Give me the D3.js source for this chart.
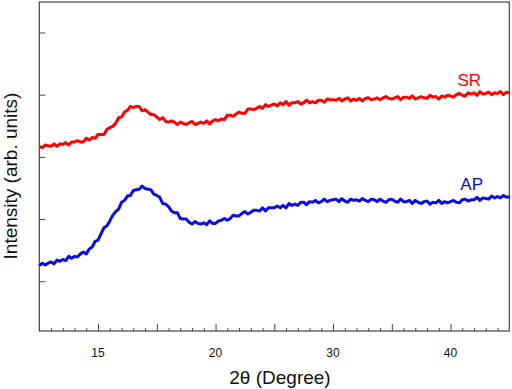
<!DOCTYPE html>
<html>
<head>
<meta charset="utf-8">
<script src="https://cdn.jsdelivr.net/npm/d3@7"></script>
<style>
  body { margin: 0; background: #fff; }
  svg { display: block; font-family: "Liberation Sans", Arial, sans-serif; }
</style>
</head>
<body>
<div id="chart"></div>
<script>
// 2theta sampling grid, 0.25 deg step from 5 to 45
const twoTheta = d3.range(161).map(i => 5 + i * 0.25);

const srValues = [
  2.17, 2.15, 2.19, 2.18, 2.17, 2.21, 2.17, 2.21, 2.20, 2.23,
  2.19, 2.24, 2.24, 2.26, 2.24, 2.24, 2.30, 2.27, 2.31, 2.30,
  2.36, 2.36, 2.36, 2.44, 2.47, 2.49, 2.54, 2.63, 2.64, 2.72,
  2.75, 2.81, 2.79, 2.81, 2.81, 2.74, 2.76, 2.72, 2.68, 2.68,
  2.64, 2.60, 2.63, 2.57, 2.56, 2.58, 2.56, 2.52, 2.56, 2.54,
  2.52, 2.55, 2.57, 2.52, 2.54, 2.56, 2.54, 2.58, 2.53, 2.58,
  2.60, 2.58, 2.61, 2.60, 2.67, 2.67, 2.65, 2.69, 2.72, 2.70,
  2.70, 2.77, 2.77, 2.76, 2.78, 2.81, 2.78, 2.84, 2.81, 2.83,
  2.85, 2.82, 2.87, 2.84, 2.89, 2.83, 2.87, 2.87, 2.89, 2.85,
  2.87, 2.91, 2.87, 2.89, 2.87, 2.91, 2.91, 2.88, 2.93, 2.92,
  2.92, 2.91, 2.94, 2.90, 2.93, 2.95, 2.90, 2.93, 2.91, 2.94,
  2.90, 2.94, 2.95, 2.92, 2.93, 2.95, 2.92, 2.95, 2.97, 2.94,
  2.93, 2.95, 2.97, 2.92, 2.96, 2.96, 2.94, 2.98, 2.93, 2.95,
  2.97, 2.95, 2.94, 2.99, 2.96, 2.97, 2.93, 2.98, 2.96, 2.99,
  2.98, 2.96, 3.00, 3.02, 2.99, 2.98, 3.03, 3.01, 3.03, 2.99,
  3.05, 3.01, 3.02, 3.04, 3.00, 3.03, 3.02, 3.05, 3.00, 3.04,
  3.03
];

const apValues = [
  0.25, 0.29, 0.26, 0.29, 0.31, 0.28, 0.34, 0.32, 0.35, 0.33,
  0.40, 0.37, 0.40, 0.39, 0.44, 0.47, 0.44, 0.52, 0.55, 0.64,
  0.66, 0.76, 0.86, 0.89, 0.97, 1.06, 1.12, 1.16, 1.27, 1.30,
  1.37, 1.38, 1.46, 1.47, 1.48, 1.53, 1.49, 1.48, 1.47, 1.40,
  1.38, 1.35, 1.25, 1.24, 1.20, 1.13, 1.10, 1.10, 1.01, 1.00,
  1.00, 0.95, 0.92, 0.96, 0.93, 0.92, 0.94, 0.91, 0.97, 0.93,
  0.93, 0.97, 0.98, 1.01, 0.98, 1.01, 1.06, 1.05, 1.05, 1.09,
  1.12, 1.08, 1.11, 1.14, 1.14, 1.13, 1.18, 1.13, 1.18, 1.18,
  1.18, 1.21, 1.18, 1.22, 1.18, 1.25, 1.22, 1.24, 1.22, 1.27,
  1.27, 1.23, 1.28, 1.27, 1.30, 1.26, 1.28, 1.32, 1.28, 1.30,
  1.31, 1.32, 1.28, 1.33, 1.29, 1.27, 1.32, 1.30, 1.31, 1.29,
  1.33, 1.30, 1.28, 1.32, 1.31, 1.28, 1.32, 1.29, 1.27, 1.31,
  1.32, 1.29, 1.27, 1.32, 1.28, 1.28, 1.30, 1.25, 1.30, 1.27,
  1.25, 1.28, 1.29, 1.24, 1.27, 1.26, 1.30, 1.25, 1.28, 1.26,
  1.28, 1.30, 1.27, 1.26, 1.31, 1.32, 1.29, 1.31, 1.31, 1.35,
  1.30, 1.34, 1.33, 1.32, 1.37, 1.34, 1.36, 1.34, 1.38, 1.35,
  1.36
];

const xTickValues = [10, 20, 30, 40];
const xTickLabels = ["15", "20", "30", "40"];
const yTickValues = [0, 1, 2, 3, 4];

const series = [
  { name: "SR", values: srValues, color: "#ff0000", labelAt: 41.6, labelY: 3.14 },
  { name: "AP", values: apValues, color: "#0a0ae6", labelAt: 41.8, labelY: 1.46 }
];

const width = 512, height = 389;
const margin = { top: 2, right: 2.7, bottom: 58, left: 39.3 };
const plotW = width - margin.left - margin.right;
const plotH = height - margin.top - margin.bottom;

const svg = d3.select("#chart").append("svg")
  .attr("width", width)
  .attr("height", height);

const g = svg.append("g")
  .attr("transform", `translate(${margin.left},${margin.top})`);

const x = d3.scaleLinear().domain([5, 45]).range([0, plotW]);
const y = d3.scaleLinear().domain([-0.8, 4.49]).range([plotH, 0]);

// frame
g.append("rect")
  .attr("width", plotW)
  .attr("height", plotH)
  .attr("fill", "none")
  .attr("stroke", "#444")
  .attr("stroke-width", 1.2);

// x ticks (inside): minor every 1, major every 5
const minor = d3.range(6, 45, 1).filter(v => v % 5 !== 0);
g.append("g")
  .attr("transform", `translate(0,${plotH})`)
  .call(d3.axisBottom(x).tickValues(minor).tickSize(-3).tickFormat(""))
  .call(a => a.select(".domain").remove())
  .selectAll("line").attr("stroke", "#444");

g.append("g")
  .attr("transform", `translate(0,${plotH})`)
  .call(d3.axisBottom(x).tickValues(d3.range(10, 45, 5)).tickSize(-7).tickFormat(""))
  .call(a => a.select(".domain").remove())
  .selectAll("line").attr("stroke", "#444");

// x tick labels
g.selectAll(".xlab")
  .data(xTickValues)
  .enter().append("text")
  .attr("x", d => x(d))
  .attr("y", plotH + 26)
  .attr("text-anchor", "middle")
  .attr("font-size", 12)
  .attr("fill", "#111")
  .text((d, i) => xTickLabels[i]);

// y ticks (inside, no labels)
g.append("g")
  .call(d3.axisLeft(y).tickValues(yTickValues).tickSize(-6).tickFormat(""))
  .call(a => a.select(".domain").remove())
  .selectAll("line").attr("stroke", "#444");

// curves
const line = d3.line()
  .x((d, i) => x(twoTheta[i]))
  .y(d => y(d));

series.forEach(s => {
  g.append("path")
    .datum(s.values)
    .attr("fill", "none")
    .attr("stroke", s.color)
    .attr("stroke-width", 3)
    .attr("stroke-linejoin", "round")
    .attr("d", line);

  g.append("text")
    .attr("x", x(s.labelAt))
    .attr("y", y(s.labelY))
    .attr("text-anchor", "middle")
    .attr("font-size", 17)
    .attr("fill", s.color)
    .text(s.name);
});

// axis titles
svg.append("text")
  .attr("x", 280)
  .attr("y", 384)
  .attr("text-anchor", "middle")
  .attr("font-size", 19)
  .attr("fill", "#111")
  .text("2θ (Degree)");

svg.append("text")
  .attr("transform", "translate(17,176) rotate(-90)")
  .attr("text-anchor", "middle")
  .attr("font-size", 19)
  .attr("fill", "#111")
  .text("Intensity (arb. units)");
</script>
</body>
</html>
